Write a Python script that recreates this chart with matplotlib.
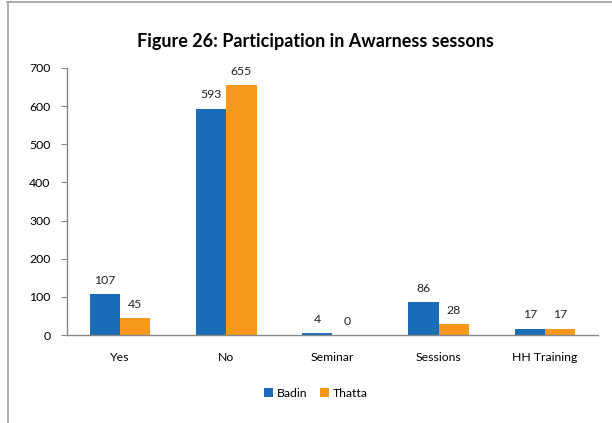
import matplotlib
matplotlib.use("Agg")
import matplotlib.pyplot as plt
from matplotlib.lines import Line2D
import numpy as np

categories = ["Yes", "No", "Seminar", "Sessions", "HH Training"]
badin = [107, 593, 4, 86, 17]
thatta = [45, 655, 0, 28, 17]
series_names = ["Badin", "Thatta"]
colors = ["#1c6db7", "#f7981d"]

plt.rcParams['font.family'] = ['Lato', 'DejaVu Sans']

fig = plt.figure(figsize=(6.12, 4.23), dpi=100)
ax = fig.add_axes([67/612, 1-335/423, (598-67)/612, (335-68)/423])

x = np.arange(len(categories))
w = 0.285
b1 = ax.bar(x - w/2, badin, w, color=colors[0], label=series_names[0])
b2 = ax.bar(x + w/2, thatta, w, color=colors[1], label=series_names[1])

for bars, vals in ((b1, badin), (b2, thatta)):
    for rect, v in zip(bars, vals):
        ax.annotate(str(v), (rect.get_x() + rect.get_width()/2, v),
                    xytext=(0, 6), textcoords="offset points",
                    ha="center", va="bottom", fontsize=8.8, color="#222222")

ax.set_xlim(-0.5, len(categories) - 0.5)
ax.set_ylim(0, 700)
ax.set_yticks(range(0, 701, 100))
ax.set_xticks(x)
ax.set_xticklabels(categories)
ax.tick_params(axis='x', length=0, pad=12, labelsize=8.8)
ax.tick_params(axis='y', length=4, direction='out', color="#888888", pad=8, labelsize=8.8)
for s in ("top", "right"):
    ax.spines[s].set_visible(False)
for s in ("left", "bottom"):
    ax.spines[s].set_color("#888888")
    ax.spines[s].set_linewidth(1.0)

fig.text(0.515, 1-42/423, "Figure 26: Participation in Awarness sessons",
         ha="center", va="center", fontsize=13, fontweight="bold")

fig.legend(handles=[b1, b2], labels=series_names, loc="center",
           bbox_to_anchor=(0.516, 1-393/423), ncol=2, frameon=False,
           fontsize=8.8, handlelength=0.8, handleheight=0.8,
           handletextpad=0.3, columnspacing=1.0)

fig.add_artist(Line2D([7/612, 1], [1-2.5/423, 1-2.5/423], color="#a0a0a0", lw=1.2,
                      transform=fig.transFigure))
fig.add_artist(Line2D([7.5/612, 7.5/612], [0, 1-2.5/423], color="#a0a0a0", lw=1.2,
                      transform=fig.transFigure))

fig.savefig("out.png", dpi=100)
